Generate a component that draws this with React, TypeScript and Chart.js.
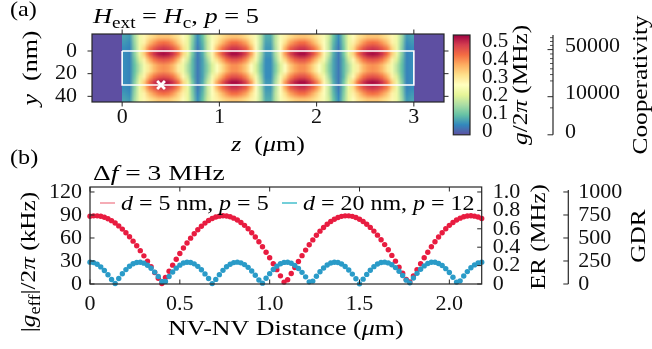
import React, { useEffect, useRef } from 'react';
import { Chart, registerables } from 'chart.js';

Chart.register(...registerables);

const FONT = "'Liberation Serif', 'Times New Roman', serif";
const FS = 22;
const INK = '#111111';
const FRAME = '#262626';

// ---------------- panel (a): heat map ----------------
const zTicks = [0, 1, 2, 3];
const zTickLabels = ['0', '1', '2', '3'];
const yTicksNm = [0, 20, 40];
const yTickLabelsNm = ['0', '20', '40'];
const zAxisRange = [-0.31, 3.31];
const yAxisRangeNm = [-15, 45];
const fieldZExtent = [0, 3];
const fieldYExtent = [-15, 45];
const magnetZ = [0, 3];
const magnetY = [0, 30];
const markerZ = 0.4;
const markerY = 30;

// g/2pi (MHz) sampled every 0.05 um in z (cell centres 0.025 ... 2.975), rows every 5 nm in y
const rowO2 = [0.08,0.07,0.16,0.24,0.29,0.32,0.34,0.36,0.36,0.36,0.34,0.32,0.28,0.23,0.14,0.06,0.11,0.20,0.26,0.30,0.33,0.35,0.36,0.36,0.35,0.33,0.30,0.26,0.18,0.09,
  0.09,0.18,0.26,0.30,0.33,0.35,0.36,0.36,0.35,0.33,0.30,0.26,0.20,0.11,0.06,0.14,0.23,0.28,0.32,0.34,0.36,0.36,0.36,0.34,0.32,0.29,0.24,0.16,0.07,0.08];
const rowO1 = [0.07,0.06,0.15,0.24,0.30,0.36,0.40,0.43,0.44,0.43,0.40,0.35,0.30,0.23,0.13,0.05,0.10,0.19,0.27,0.32,0.37,0.41,0.44,0.44,0.42,0.39,0.33,0.27,0.18,0.08,
  0.08,0.18,0.27,0.33,0.39,0.42,0.44,0.44,0.41,0.37,0.32,0.27,0.19,0.10,0.05,0.13,0.23,0.30,0.35,0.40,0.43,0.44,0.43,0.40,0.36,0.30,0.24,0.15,0.06,0.07];
const rowD = [0.06,0.05,0.14,0.24,0.34,0.42,0.46,0.49,0.50,0.49,0.46,0.41,0.33,0.23,0.12,0.04,0.09,0.19,0.28,0.37,0.43,0.47,0.50,0.50,0.48,0.45,0.38,0.28,0.17,0.07,
  0.07,0.17,0.28,0.38,0.45,0.48,0.50,0.50,0.47,0.43,0.37,0.28,0.19,0.09,0.04,0.12,0.23,0.33,0.41,0.46,0.49,0.50,0.49,0.46,0.42,0.34,0.24,0.14,0.05,0.06];
const rowE = [0.06,0.05,0.14,0.24,0.35,0.44,0.50,0.53,0.54,0.53,0.50,0.44,0.34,0.23,0.12,0.04,0.09,0.19,0.29,0.39,0.46,0.51,0.54,0.54,0.52,0.48,0.40,0.29,0.17,0.07,
  0.07,0.17,0.29,0.40,0.48,0.52,0.54,0.54,0.51,0.46,0.39,0.29,0.19,0.09,0.04,0.12,0.23,0.34,0.44,0.50,0.53,0.54,0.53,0.50,0.44,0.35,0.24,0.14,0.05,0.06];
const rowM1 = [0.06,0.05,0.12,0.21,0.30,0.38,0.43,0.46,0.47,0.46,0.43,0.37,0.29,0.20,0.10,0.04,0.08,0.16,0.25,0.33,0.39,0.44,0.47,0.47,0.45,0.41,0.34,0.25,0.15,0.06,
  0.06,0.15,0.25,0.34,0.41,0.45,0.47,0.47,0.44,0.39,0.33,0.25,0.16,0.08,0.04,0.10,0.20,0.29,0.37,0.43,0.46,0.47,0.46,0.43,0.38,0.30,0.21,0.12,0.05,0.06];
const rowM0 = [0.06,0.05,0.11,0.18,0.25,0.32,0.37,0.40,0.41,0.40,0.37,0.31,0.24,0.17,0.10,0.04,0.08,0.14,0.21,0.27,0.33,0.38,0.41,0.41,0.39,0.35,0.28,0.21,0.13,0.06,
  0.06,0.13,0.21,0.28,0.35,0.39,0.41,0.41,0.38,0.33,0.27,0.21,0.14,0.08,0.04,0.10,0.17,0.24,0.31,0.37,0.40,0.41,0.40,0.37,0.32,0.25,0.18,0.11,0.05,0.06];
const fieldRows = [rowO2, rowO1, rowD, rowE, rowM1, rowM0, rowM0, rowM1, rowE, rowD, rowO1, rowO2];

// colour bar + cooperativity axis
const gMaxMHz = 0.55;
const gTicks = [0, 0.1, 0.2, 0.3, 0.4, 0.5];
const gTickLabels = ['0', '0.1', '0.2', '0.3', '0.4', '0.5'];
const coopPerG2 = 226800;
const coopTicks = [0, 10000, 50000];
const coopTickLabels = ['0', '10000', '50000'];
const coopMinorTicks = [5000, 20000, 25000, 30000, 35000, 40000, 45000, 55000, 60000, 65000];
const spectralStops = ['#5e4fa2', '#3288bd', '#66c2a5', '#abdda4', '#e6f598', '#ffffbf', '#fee08b', '#fdae61', '#f46d43', '#d53e4f', '#9e0142'];

// ---------------- panel (b): effective coupling ----------------
const distX = [0,0.02,0.04,0.06,0.08,0.1,0.12,0.14,0.16,0.18,0.2,0.22,0.24,0.26,0.28,0.3,0.32,0.34,0.36,0.38,
  0.4,0.42,0.44,0.46,0.48,0.5,0.52,0.54,0.56,0.58,0.6,0.62,0.64,0.66,0.68,0.7,0.72,0.74,0.76,0.78,
  0.8,0.82,0.84,0.86,0.88,0.9,0.92,0.94,0.96,0.98,1.0,1.02,1.04,1.06,1.08,1.1,1.12,1.14,1.16,1.18,
  1.2,1.22,1.24,1.26,1.28,1.3,1.32,1.34,1.36,1.38,1.4,1.42,1.44,1.46,1.48,1.5,1.52,1.54,1.56,1.58,
  1.6,1.62,1.64,1.66,1.68,1.7,1.72,1.74,1.76,1.78,1.8,1.82,1.84,1.86,1.88,1.9,1.92,1.94,1.96,1.98,
  2.0,2.02,2.04,2.06,2.08,2.1,2.12,2.14,2.16,2.18];
const gEffRed = [88.3,88.9,88.9,88.3,87.0,85.1,82.6,79.5,75.8,71.6,66.8,61.6,55.9,49.9,43.5,36.7,29.6,22.4,15.0,7.5,
  0.5,8.6,16.7,24.6,32.3,39.7,46.9,53.5,59.8,65.6,70.8,75.4,79.4,82.8,85.4,87.3,88.5,89.0,88.7,87.7,
  85.9,83.5,80.3,76.5,72.0,66.9,61.3,55.1,48.5,41.5,34.2,26.5,18.7,10.6,2.5,5.6,13.7,21.6,29.4,37.0,
  44.2,51.1,57.5,63.5,68.9,73.7,77.9,81.5,84.4,86.7,88.2,88.9,88.9,88.2,86.7,84.5,81.6,78.0,73.8,69.0,
  63.7,57.8,51.4,44.6,37.3,29.8,22.0,14.0,5.9,2.6,10.6,18.7,26.5,34.2,41.5,48.5,55.1,61.3,66.9,72.0,
  76.5,80.3,83.5,85.9,87.7,88.7,89.0,88.5,87.3,85.4];
const gEffBlue = [28.5,27.9,25.8,22.3,17.7,12.0,5.8,0.7,7.2,13.4,18.8,23.2,26.4,28.1,28.4,27.2,24.5,20.6,15.5,9.7,
  3.2,3.4,9.8,15.7,20.7,24.6,27.3,28.4,28.1,26.3,23.0,18.6,13.2,7.1,0.5,6.0,12.2,17.8,22.4,25.8,
  27.9,28.5,27.6,25.3,21.7,17.0,11.4,5.3,1.1,7.5,13.5,18.9,23.3,26.5,28.2,28.3,27.0,24.3,20.3,15.2,
  9.3,2.8,3.8,10.1,16.0,20.9,24.8,27.3,28.4,28.0,26.1,22.8,18.3,12.9,6.8,0.2,6.3,12.5,18.0,22.6,
  26.0,28.0,28.5,27.5,25.1,21.4,16.7,11.1,5.0,1.5,7.9,13.9,19.2,23.6,26.7,28.3,28.3,26.8,24.1,20.0,
  14.9,8.9,2.5,4.1,10.4,16.2,21.2,24.9,27.4,28.5];
const xTicksB = [0, 0.5, 1.0, 1.5, 2.0];
const xTickLabelsB = ['0', '0.5', '1.0', '1.5', '2.0'];
const xRangeB = [0, 2.18];
const kHzTicks = [0, 30, 60, 90, 120];
const kHzTickLabels = ['0', '30', '60', '90', '120'];
const kHzMax = 126.5;
const erPerKHz = 1 / 120;
const erTicks = [0, 0.2, 0.4, 0.6, 0.8, 1.0];
const erTickLabels = ['0', '0.2', '0.4', '0.6', '0.8', '1.0'];
const gdrPerEr = 1000;
const gdrTicks = [0, 250, 500, 750, 1000];
const gdrTickLabels = ['0', '250', '500', '750', '1000'];
const seriesLabels = ['d = 5 nm, p = 5', 'd = 20 nm, p = 12'];
const seriesColors = ['#e81c40', '#2a9bc8'];
const legendLineColors = ['#f2909c', '#45bfcc'];

// ---------------- helpers ----------------
type Seg = { t: string; i?: boolean; sub?: boolean };
const EN = '\u2002';

function segFont(s: Seg) {
  const size = s.sub ? Math.round(FS * 0.72) : FS;
  return `${s.i ? 'italic ' : ''}${size}px ${FONT}`;
}

function richWidth(ctx: CanvasRenderingContext2D, segs: Seg[]) {
  let w = 0;
  for (const s of segs) { ctx.font = segFont(s); w += ctx.measureText(s.t).width; }
  return w;
}

function drawRich(ctx: CanvasRenderingContext2D, segs: Seg[], x: number, y: number, align: 'left' | 'center', rotate = false, stretch = 1.15) {
  ctx.save();
  ctx.translate(x, y);
  if (rotate) ctx.rotate(-Math.PI / 2);
  ctx.scale(stretch, 1);
  const w = richWidth(ctx, segs);
  let cx = align === 'center' ? -w / 2 : 0;
  ctx.fillStyle = '#000';
  ctx.textAlign = 'left';
  ctx.textBaseline = 'alphabetic';
  for (const s of segs) {
    ctx.font = segFont(s);
    ctx.fillText(s.t, cx, s.sub ? FS * 0.22 : 0);
    cx += ctx.measureText(s.t).width;
  }
  ctx.restore();
}

function hexRGB(h: string) {
  return [parseInt(h.slice(1, 3), 16), parseInt(h.slice(3, 5), 16), parseInt(h.slice(5, 7), 16)];
}

function cmap(v: number) {
  const n = spectralStops.length - 1;
  const t = Math.max(0, Math.min(1, v / gMaxMHz)) * n;
  const i = Math.min(Math.floor(t), n - 1);
  const f = t - i;
  const a = hexRGB(spectralStops[i]);
  const b = hexRGB(spectralStops[i + 1]);
  return [a[0] + (b[0] - a[0]) * f, a[1] + (b[1] - a[1]) * f, a[2] + (b[2] - a[2]) * f];
}

function frame(ctx: CanvasRenderingContext2D, ca: any) {
  ctx.save();
  ctx.strokeStyle = FRAME;
  ctx.lineWidth = 1.2;
  ctx.strokeRect(ca.left, ca.top, ca.right - ca.left, ca.bottom - ca.top);
  ctx.restore();
}

function vTicks(ctx: CanvasRenderingContext2D, scale: any, values: number[], xEdge: number, dx: number, width = 1) {
  ctx.save();
  ctx.strokeStyle = FRAME;
  ctx.lineWidth = width;
  ctx.beginPath();
  for (const v of values) {
    const p = scale.getPixelForValue(v);
    ctx.moveTo(xEdge, p);
    ctx.lineTo(xEdge + dx, p);
  }
  ctx.stroke();
  ctx.restore();
}

function hTicks(ctx: CanvasRenderingContext2D, scale: any, values: number[], yEdge: number, dy: number) {
  ctx.save();
  ctx.strokeStyle = FRAME;
  ctx.lineWidth = 1;
  ctx.beginPath();
  for (const v of values) {
    const p = scale.getPixelForValue(v);
    ctx.moveTo(p, yEdge);
    ctx.lineTo(p, yEdge + dy);
  }
  ctx.stroke();
  ctx.restore();
}

const tickFont = { family: FONT, size: FS };
const noGrid = { display: false, drawTicks: false };

function fixedTicks(values: number[]) {
  return (s: any) => { s.ticks = values.map((v) => ({ value: v })); };
}

export default function App() {
  const refA = useRef<HTMLCanvasElement>(null);
  const refB = useRef<HTMLCanvasElement>(null);
  const refC = useRef<HTMLCanvasElement>(null);

  useEffect(() => {
    const base = {
      responsive: false,
      animation: false as const,
      devicePixelRatio: 1,
      events: [] as any[],
    };

    // ---------- chart A: heat map ----------
    const heatPlugin = {
      id: 'heat',
      beforeDatasetsDraw(chart: any) {
        const { ctx, chartArea: ca, scales } = chart;
        const x = scales.x;
        const y = scales.y;
        ctx.save();
        const c0 = cmap(0);
        ctx.fillStyle = `rgb(${c0[0]},${c0[1]},${c0[2]})`;
        ctx.fillRect(ca.left, ca.top, ca.right - ca.left, ca.bottom - ca.top);
        const cols = fieldRows[0].length;
        const rows = fieldRows.length;
        const off = document.createElement('canvas');
        off.width = cols;
        off.height = rows;
        const octx = off.getContext('2d')!;
        const img = octx.createImageData(cols, rows);
        for (let r = 0; r < rows; r++) {
          for (let c = 0; c < cols; c++) {
            const col = cmap(fieldRows[r][c]);
            const k = (r * cols + c) * 4;
            img.data[k] = col[0];
            img.data[k + 1] = col[1];
            img.data[k + 2] = col[2];
            img.data[k + 3] = 255;
          }
        }
        octx.putImageData(img, 0, 0);
        const x0 = x.getPixelForValue(fieldZExtent[0]);
        const x1 = x.getPixelForValue(fieldZExtent[1]);
        const y0 = y.getPixelForValue(fieldYExtent[0]);
        const y1 = y.getPixelForValue(fieldYExtent[1]);
        ctx.beginPath();
        ctx.rect(ca.left, ca.top, ca.right - ca.left, ca.bottom - ca.top);
        ctx.clip();
        ctx.imageSmoothingEnabled = true;
        ctx.drawImage(off, x0, Math.min(y0, y1), x1 - x0, Math.abs(y1 - y0));
        ctx.restore();
      },
      afterDraw(chart: any) {
        const { ctx, chartArea: ca, scales } = chart;
        frame(ctx, ca);
        hTicks(ctx, scales.x, zTicks, ca.bottom, 4.5);
        hTicks(ctx, scales.x, zTicks, ca.top, -4.5);
        vTicks(ctx, scales.y, yTicksNm, ca.left, -4.5);
        vTicks(ctx, scales.y, yTicksNm, ca.right, 4.5);
        drawRich(ctx, [{ t: '(a)' }], 10, 16, 'left', false, 1.1);
        drawRich(ctx, [
          { t: 'H', i: true }, { t: 'ext', sub: true }, { t: ' = ' },
          { t: 'H', i: true }, { t: 'c', sub: true }, { t: ', ' },
          { t: 'p', i: true }, { t: ' = 5' },
        ], 93, 23, 'left', false, 1.2);
        drawRich(ctx, [{ t: 'y', i: true }, { t: EN + '(nm)' }], 37, (ca.top + ca.bottom) / 2, 'center', true, 1.18);
        drawRich(ctx, [{ t: 'z', i: true }, { t: EN + '(' }, { t: 'μ', i: true }, { t: 'm)' }], (ca.left + ca.right) / 2, 151, 'center', false, 1.18);
      },
    };

    const outline = [
      { x: magnetZ[0], y: magnetY[0] }, { x: magnetZ[1], y: magnetY[0] },
      { x: magnetZ[1], y: magnetY[1] }, { x: magnetZ[0], y: magnetY[1] },
      { x: magnetZ[0], y: magnetY[0] },
    ];

    const chartA = new Chart(refA.current!, {
      type: 'scatter',
      data: {
        datasets: [
          { data: outline, showLine: true, borderColor: '#ffffff', borderWidth: 1.6, pointRadius: 0, fill: false } as any,
          { data: [{ x: markerZ, y: markerY }], pointStyle: 'crossRot', pointRadius: 5.5, borderColor: '#ffffff', borderWidth: 2.8, backgroundColor: '#ffffff' } as any,
        ],
      },
      options: {
        ...base,
        layout: { padding: { left: 0, top: 34, right: 8, bottom: 0 }, autoPadding: false },
        plugins: { legend: { display: false }, tooltip: { enabled: false } },
        scales: {
          x: {
            type: 'linear', position: 'bottom', min: zAxisRange[0], max: zAxisRange[1], bounds: 'data',
            afterFit: (s: any) => { s.height = 58; },
            afterBuildTicks: fixedTicks(zTicks),
            grid: noGrid, border: { display: false },
            ticks: { font: tickFont, color: INK, padding: 2, maxRotation: 0, autoSkip: false, callback: (_v: any, i: number) => zTickLabels[i] },
          },
          y: {
            type: 'linear', position: 'left', reverse: true, min: yAxisRangeNm[0], max: yAxisRangeNm[1], bounds: 'data',
            afterFit: (s: any) => { s.width = 92; },
            afterBuildTicks: fixedTicks(yTicksNm),
            grid: noGrid, border: { display: false },
            ticks: { font: tickFont, color: INK, padding: 15, autoSkip: false, callback: (_v: any, i: number) => yTickLabelsNm[i] },
          },
        } as any,
      },
      plugins: [heatPlugin],
    } as any);

    // ---------- chart B: colour bar ----------
    const cbPlugin = {
      id: 'cb',
      beforeDraw(chart: any) {
        const { ctx, chartArea: ca } = chart;
        const grad = ctx.createLinearGradient(0, ca.bottom, 0, ca.top);
        spectralStops.forEach((c, i) => grad.addColorStop(i / (spectralStops.length - 1), c));
        ctx.save();
        ctx.fillStyle = grad;
        ctx.fillRect(ca.left, ca.top, ca.right - ca.left, ca.bottom - ca.top);
        ctx.restore();
      },
      afterDraw(chart: any) {
        const { ctx, chartArea: ca, scales } = chart;
        frame(ctx, ca);
        const coop = scales.coop;
        const sx = coop.left;
        ctx.save();
        ctx.strokeStyle = FRAME;
        ctx.lineWidth = 1.2;
        ctx.beginPath();
        ctx.moveTo(sx, ca.top);
        ctx.lineTo(sx, ca.bottom);
        ctx.stroke();
        ctx.restore();
        vTicks(ctx, coop, coopTicks.map((c) => Math.sqrt(c / coopPerG2)), sx, -5.5);
        vTicks(ctx, coop, coopMinorTicks.map((c) => Math.sqrt(c / coopPerG2)), sx, -3, 0.8);
        drawRich(ctx, [{ t: 'g', i: true }, { t: '/2' }, { t: 'π', i: true }, { t: ' (MHz)' }], 82, (ca.top + ca.bottom) / 2, 'center', true, 1.15);
        drawRich(ctx, [{ t: 'Cooperativity' }], 202, (ca.top + ca.bottom) / 2, 'center', true, 1.15);
      },
    };

    const chartB = new Chart(refB.current!, {
      type: 'scatter',
      data: { datasets: [] },
      options: {
        ...base,
        layout: { padding: { left: 8.3, top: 35, right: 0, bottom: 24.3 }, autoPadding: false },
        plugins: { legend: { display: false }, tooltip: { enabled: false } },
        scales: {
          x: { type: 'linear', display: false, min: 0, max: 1 },
          g: {
            type: 'linear', position: 'right', min: 0, max: gMaxMHz, bounds: 'data',
            afterFit: (s: any) => { s.width = 83; },
            afterBuildTicks: fixedTicks(gTicks),
            grid: noGrid, border: { display: false },
            ticks: { font: { family: FONT, size: 21 }, color: INK, padding: 12, labelOffset: -3, autoSkip: false, callback: (_v: any, i: number) => gTickLabels[i] },
          },
          coop: {
            type: 'linear', position: 'right', min: 0, max: gMaxMHz, bounds: 'data',
            afterFit: (s: any) => { s.width = 99; },
            afterBuildTicks: fixedTicks(coopTicks.map((c) => Math.sqrt(c / coopPerG2))),
            grid: noGrid, border: { display: false },
            ticks: { font: tickFont, color: INK, padding: 12, labelOffset: -3, autoSkip: false, callback: (_v: any, i: number) => coopTickLabels[i] },
          },
        } as any,
      },
      plugins: [cbPlugin],
    } as any);

    // ---------- chart C: coupling vs distance ----------
    const cPlugin = {
      id: 'pb',
      afterDraw(chart: any) {
        const { ctx, chartArea: ca, scales } = chart;
        frame(ctx, ca);
        hTicks(ctx, scales.x, xTicksB, ca.bottom, -4.5);
        hTicks(ctx, scales.x, xTicksB, ca.top, 4.5);
        vTicks(ctx, scales.y, kHzTicks, ca.left, 4.5);
        vTicks(ctx, scales.er, erTicks, ca.right, -4.5);
        const gdr = scales.gdr;
        const sx = gdr.left;
        ctx.save();
        ctx.strokeStyle = FRAME;
        ctx.lineWidth = 1.2;
        ctx.beginPath();
        ctx.moveTo(sx, ca.top + 3);
        ctx.lineTo(sx, ca.bottom);
        ctx.stroke();
        ctx.restore();
        vTicks(ctx, gdr, gdrTicks, sx, -5);
        // legend
        const ly = ca.top + 16;
        const entries = [
          { x: 100, segs: [{ t: 'd', i: true }, { t: ' = 5 nm, ' }, { t: 'p', i: true }, { t: ' = 5' }] },
          { x: 282, segs: [{ t: 'd', i: true }, { t: ' = 20 nm, ' }, { t: 'p', i: true }, { t: ' = 12' }] },
        ];
        entries.forEach((e, k) => {
          ctx.save();
          ctx.strokeStyle = legendLineColors[k];
          ctx.lineWidth = 1.5;
          ctx.beginPath();
          ctx.moveTo(e.x, ly);
          ctx.lineTo(e.x + 15, ly);
          ctx.stroke();
          ctx.restore();
          drawRich(ctx, e.segs, e.x + 21, ly + 6.5, 'left', false, 1.09);
        });
        drawRich(ctx, [{ t: '(b)' }], 10, 16, 'left', false, 1.1);
        drawRich(ctx, [{ t: 'Δ' }, { t: 'f', i: true }, { t: ' = 3 MHz' }], 93, 32, 'left', false, 1.25);
        drawRich(ctx, [{ t: '|' }, { t: 'g', i: true }, { t: 'eff', sub: true }, { t: '|/2' }, { t: 'π', i: true }, { t: ' (kHz)' }], 35, 114, 'center', true, 1.15);
        drawRich(ctx, [{ t: 'ER (MHz)' }], 545, 89, 'center', true, 1.13);
        drawRich(ctx, [{ t: 'GDR' }], 645, 88, 'center', true, 1.15);
        drawRich(ctx, [{ t: 'NV-NV Distance (' }, { t: 'μ', i: true }, { t: 'm)' }], (ca.left + ca.right) / 2, 187, 'center', false, 1.18);
      },
    };

    const chartC = new Chart(refC.current!, {
      type: 'scatter',
      data: {
        datasets: [
          { label: seriesLabels[0], data: distX.map((x, i) => ({ x, y: gEffRed[i] })), backgroundColor: seriesColors[0], borderWidth: 0, pointRadius: 2.7, clip: false, order: 1 } as any,
          { label: seriesLabels[1], data: distX.map((x, i) => ({ x, y: gEffBlue[i] })), backgroundColor: seriesColors[1], borderWidth: 0, pointRadius: 2.7, clip: false, order: 0 } as any,
        ],
      },
      options: {
        ...base,
        layout: { padding: { left: 0, top: 39, right: 0, bottom: 0 }, autoPadding: false },
        plugins: { legend: { display: false }, tooltip: { enabled: false } },
        scales: {
          x: {
            type: 'linear', position: 'bottom', min: xRangeB[0], max: xRangeB[1], bounds: 'data',
            afterFit: (s: any) => { s.height = 65; },
            afterBuildTicks: fixedTicks(xTicksB),
            grid: noGrid, border: { display: false },
            ticks: { font: tickFont, color: INK, padding: 7, maxRotation: 0, autoSkip: false, callback: (_v: any, i: number) => xTickLabelsB[i] },
          },
          y: {
            type: 'linear', position: 'left', min: 0, max: kHzMax, bounds: 'data',
            afterFit: (s: any) => { s.width = 90; },
            afterBuildTicks: fixedTicks(kHzTicks),
            grid: noGrid, border: { display: false },
            ticks: { font: tickFont, color: INK, padding: 8, autoSkip: false, callback: (_v: any, i: number) => kHzTickLabels[i] },
          },
          er: {
            type: 'linear', position: 'right', min: 0, max: kHzMax * erPerKHz, bounds: 'data',
            afterFit: (s: any) => { s.width = 86.6; },
            afterBuildTicks: fixedTicks(erTicks),
            grid: noGrid, border: { display: false },
            ticks: { font: tickFont, color: INK, padding: 11, autoSkip: false, callback: (_v: any, i: number) => erTickLabels[i] },
          },
          gdr: {
            type: 'linear', position: 'right', min: 0, max: kHzMax * erPerKHz * gdrPerEr, bounds: 'data',
            afterFit: (s: any) => { s.width = 83.7; },
            afterBuildTicks: fixedTicks(gdrTicks),
            grid: noGrid, border: { display: false },
            ticks: { font: tickFont, color: INK, padding: 10, autoSkip: false, callback: (_v: any, i: number) => gdrTickLabels[i] },
          },
        } as any,
      },
      plugins: [cPlugin],
    } as any);

    return () => {
      chartA.destroy();
      chartB.destroy();
      chartC.destroy();
    };
  }, []);

  return (
    <div style={{ position: 'absolute', left: 0, top: 0, width: 652, height: 349, background: '#ffffff', overflow: 'hidden' }}>
      <canvas ref={refA} width={452} height={160} style={{ position: 'absolute', left: 0, top: 0 }} />
      <canvas ref={refB} width={207} height={160} style={{ position: 'absolute', left: 445, top: 0 }} />
      <canvas ref={refC} width={652} height={201} style={{ position: 'absolute', left: 0, top: 148 }} />
    </div>
  );
}
